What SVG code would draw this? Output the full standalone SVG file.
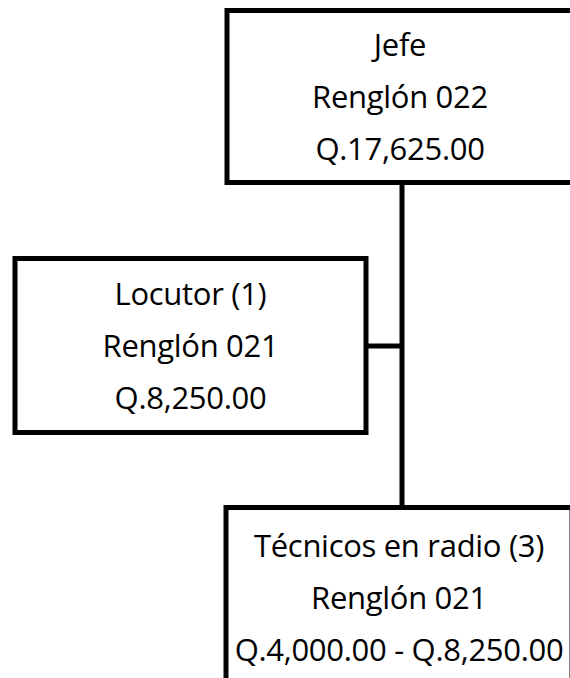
<svg xmlns="http://www.w3.org/2000/svg" width="570" height="678" viewBox="0 0 570 678">
<style>
.box{fill:#fff;stroke:#000;stroke-width:5}
.conn{fill:none;stroke:#000;stroke-width:5}
text{font-family:"Open Sans","Noto Sans",sans-serif;font-size:31px;letter-spacing:-0.3px;fill:#000;text-anchor:middle}
</style>
<rect width="570" height="678" fill="#fff"/>
<g id="connectors">
<line class="conn" x1="402" y1="182" x2="402" y2="508"/>
<line class="conn" x1="366" y1="346" x2="402" y2="346"/>
</g>
<g id="jefe">
<rect class="box" x="227" y="10.5" width="346" height="172"/>
<text x="400" y="56">Jefe</text>
<text x="400" y="108">Renglón 022</text>
<text x="400" y="160">Q.17,625.00</text>
</g>
<g id="locutor">
<rect class="box" x="15" y="258.5" width="351" height="174"/>
<text x="190.5" y="305">Locutor (1)</text>
<text x="190.5" y="357">Renglón 021</text>
<text x="190.5" y="409">Q.8,250.00</text>
</g>
<g id="tecnicos">
<rect class="box" x="226" y="507.5" width="346" height="180"/>
<text x="399" y="557">Técnicos en radio (3)</text>
<text x="399" y="609">Renglón 021</text>
<text x="399" y="661">Q.4,000.00 - Q.8,250.00</text>
</g>
</svg>
